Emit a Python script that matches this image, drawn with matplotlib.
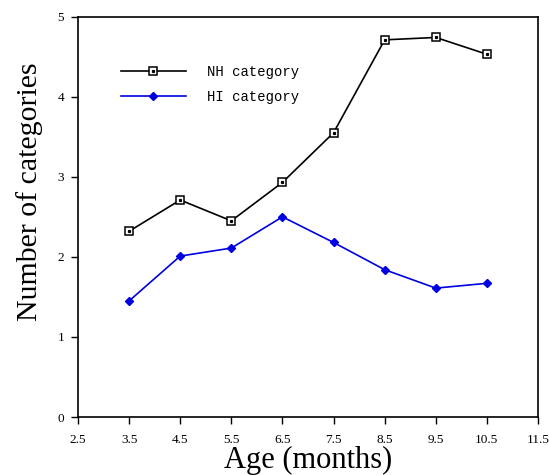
import matplotlib
matplotlib.use('Agg')
from matplotlib import pyplot as plt

# data
age = [3.5, 4.5, 5.5, 6.5, 7.5, 8.5, 9.5, 10.5]
nh_category = [2.32, 2.71, 2.45, 2.93, 3.55, 4.71, 4.74, 4.53]
hi_category = [1.45, 2.01, 2.11, 2.50, 2.18, 1.84, 1.61, 1.67]
x_ticks = [2.5, 3.5, 4.5, 5.5, 6.5, 7.5, 8.5, 9.5, 10.5, 11.5]
y_ticks = [0, 1, 2, 3, 4, 5]

plt.rcParams['font.family'] = 'Liberation Serif'

fig = plt.figure(figsize=(5.49, 4.75), dpi=100)
ax = fig.add_axes([0.142, 0.122, 0.838, 0.843])

nh_line, = ax.plot(age, nh_category, color='black', lw=1.2, marker='s',
                   ms=5.5, mfc='white', mec='black', mew=1.1)
nh_dot, = ax.plot(age, nh_category, ls='none', marker='s', ms=1.3,
                  color='black')
hi_line, = ax.plot(age, hi_category, color='#0000e0', lw=1.2, marker='D',
                   ms=4.5, mfc='#0000e0', mec='#0000e0')

ax.set_xlim(2.5, 11.5)
ax.set_ylim(0, 5)
ax.set_xticks(x_ticks)
ax.set_xticklabels([f'{t:g}' for t in x_ticks])
ax.set_yticks(y_ticks)
ax.tick_params(direction='out', length=5, width=1, labelsize=9.5)
ax.tick_params(axis='x', pad=7)
ax.tick_params(axis='y', pad=5)
for sp in ax.spines.values():
    sp.set_linewidth(1.2)

ax.set_xlabel('Age (months)', fontsize=22)
ax.xaxis.set_label_coords(0.5, -0.072)
ax.set_ylabel('Number of categories', fontsize=21.5)
ax.yaxis.set_label_coords(-0.075, 0.562)

leg = ax.legend([(nh_line, nh_dot), hi_line], ['NH category', 'HI category'],
                loc='upper left', bbox_to_anchor=(0.093, 0.88),
                borderaxespad=0, borderpad=0, frameon=False,
                handlelength=4.7, handletextpad=1.5, labelspacing=0.8,
                prop={'family': 'Liberation Mono', 'size': 10})

plt.savefig('out.png', dpi=100)
